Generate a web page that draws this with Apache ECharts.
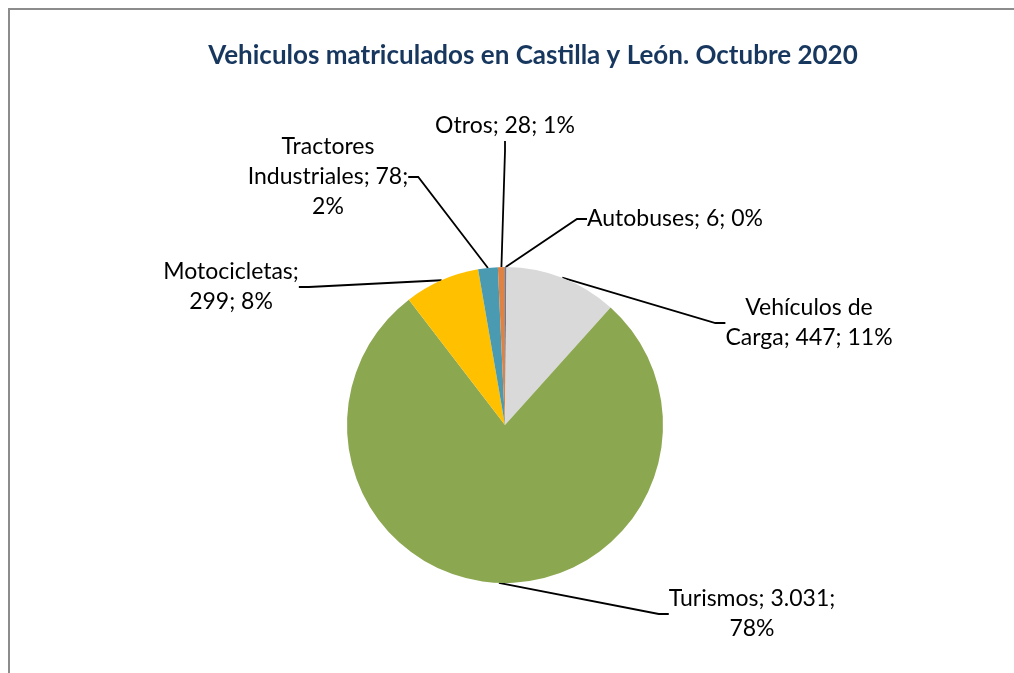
<!DOCTYPE html>
<html>
<head>
<meta charset="utf-8">
<script src="https://cdn.jsdelivr.net/npm/echarts@6/dist/echarts.min.js"></script>
<style>
  html, body { margin: 0; padding: 0; background: #ffffff; overflow: hidden; }
  #chart { position: absolute; left: 0; top: 0; width: 1014px; height: 673px; }
  #frame { position: absolute; left: 8px; top: 8px; width: 2000px; height: 2000px;
           border-left: 2px solid #8c8c8c; border-top: 2px solid #8c8c8c; pointer-events: none; }
</style>
</head>
<body>
<div id="chart"></div>
<div id="frame"></div>
<script>
// ---- data ----
const titleText = 'Vehiculos matriculados en Castilla y León. Octubre 2020';
const categories = ['Autobuses', 'Vehículos de Carga', 'Turismos', 'Motocicletas', 'Tractores Industriales', 'Otros'];
const values = [6, 447, 3031, 299, 78, 28];

// ---- style / layout ----
const colors = ['#4F81BD', '#D9D9D9', '#8BA750', '#FFC000', '#4A9BB2', '#DE8344'];
// label block centre positions and words-per-line
const labelPos = [
  { x: 675, y: 219, lines: [4] },
  { x: 809, y: 323, lines: [2, 3] },
  { x: 752, y: 614, lines: [2, 1] },
  { x: 231, y: 287, lines: [1, 2] },
  { x: 328, y: 177, lines: [1, 2, 1] },
  { x: 505, y: 126, lines: [4] }
];

function fmtNum(v) {
  return String(v).replace(/\B(?=(\d{3})+(?!\d))/g, '.');
}

const chart = echarts.init(document.getElementById('chart'), null, { renderer: 'canvas' });

const option = {
  animation: false,
  backgroundColor: 'transparent',
  title: {
    text: titleText,
    left: 533,
    top: 43,
    padding: 0,
    textAlign: 'center',
    textStyle: { fontFamily: 'Lato', fontWeight: 'bold', fontSize: 26, color: '#17375E' }
  },
  series: [{
    type: 'pie',
    center: [505, 425],
    radius: 158,
    startAngle: 90,
    clockwise: true,
    avoidLabelOverlap: false,
    percentPrecision: 0,
    itemStyle: { borderWidth: 0 },
    data: categories.map((c, i) => ({ name: c, value: values[i], itemStyle: { color: colors[i] } })),
    label: {
      show: true,
      position: 'outside',
      fontFamily: 'Lato',
      fontSize: 23,
      lineHeight: 30,
      color: '#000000',
      align: 'center',
      formatter: function (p) {
        const words = (p.name + '; ' + fmtNum(p.value) + '; ' + p.percent + '%').split(' ');
        const counts = labelPos[p.dataIndex].lines;
        const out = [];
        let k = 0;
        counts.forEach(n => { out.push(words.slice(k, k + n).join(' ')); k += n; });
        if (k < words.length) out[out.length - 1] += ' ' + words.slice(k).join(' ');
        return out.join('\n');
      }
    },
    labelLine: {
      show: true,
      length: 10,
      length2: 10,
      lineStyle: { color: '#000000', width: 1.8 }
    },
    labelLayout: function (params) {
      const lp = labelPos[params.dataIndex];
      return { x: lp.x, y: lp.y, align: 'center', verticalAlign: 'middle' };
    },
    emphasis: { disabled: true }
  }]
};
chart.setOption(option);
</script>
</body>
</html>
